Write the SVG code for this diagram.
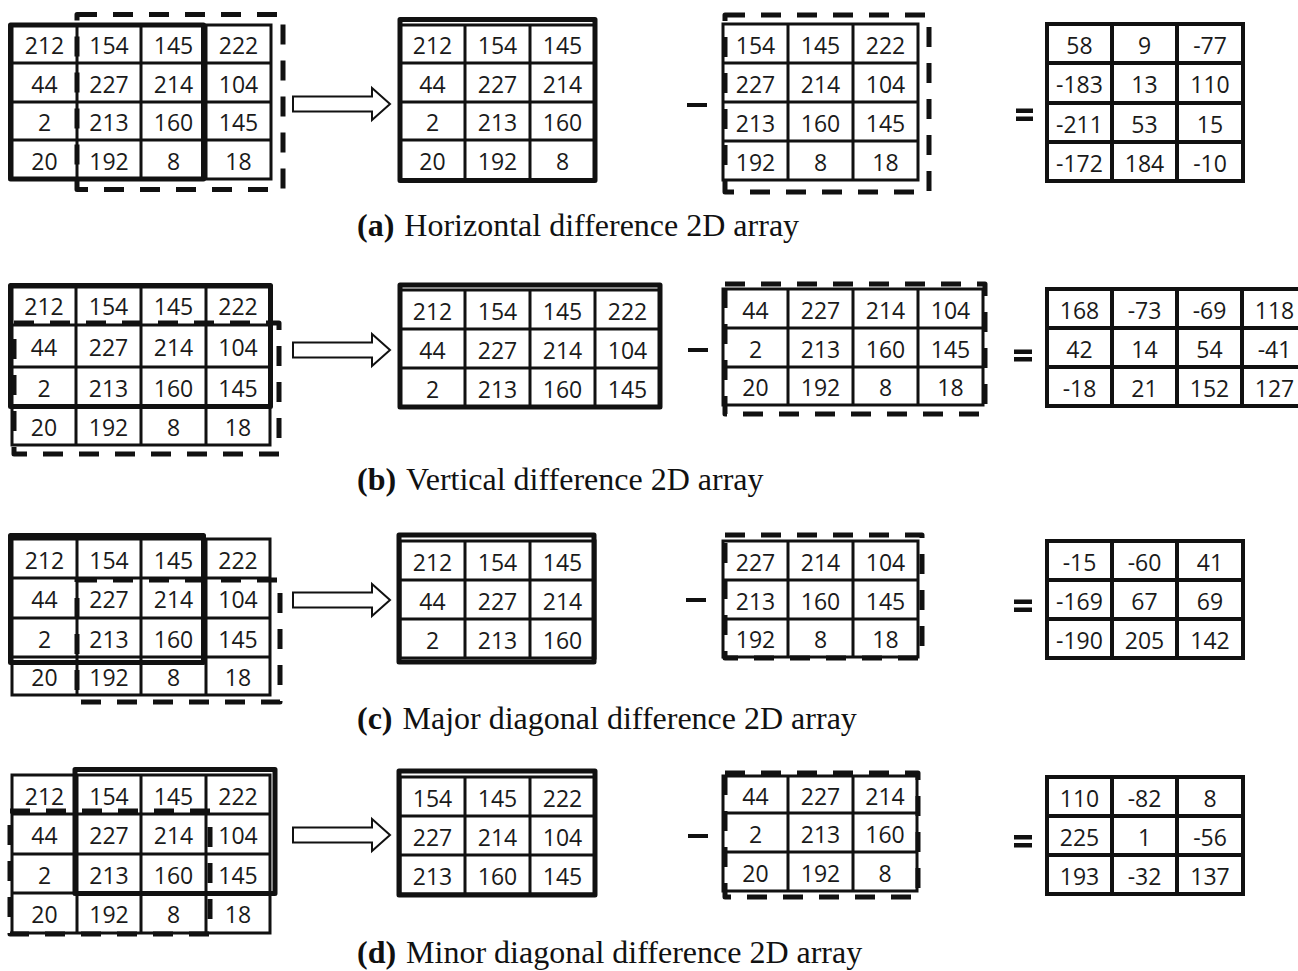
<svg xmlns="http://www.w3.org/2000/svg" width="1298" height="971" viewBox="0 0 1298 971">
<style>
  .grid{fill:#fff;stroke:#111;stroke-width:3}
  .res{fill:#fff;stroke:#111;stroke-width:4}
  .solid{fill:none;stroke:#111;stroke-width:5;stroke-linejoin:round}
  .dash{fill:none;stroke:#111;stroke-width:5;stroke-dasharray:20 16;stroke-linejoin:round}
  .n{font-family:"Open Sans","Liberation Sans",sans-serif;font-size:23px;fill:#1a1a1a;text-anchor:middle}
  .cap{font-family:"Liberation Serif","Times New Roman",serif;font-size:32px;fill:#111}
  .op{fill:#111}
  .arr{fill:#fff;stroke:#111;stroke-width:2;stroke-linejoin:miter}
</style>
<defs>
  <path id="arrow" class="arr" d="M0 -7.5H79V-16L97 0L79 16V7.5H0Z"/>
</defs>

<!-- ===== (a) horizontal ===== -->
<g id="a-source">
  <path class="grid" d="M12 25H271V179H12Z M77 25V179 M141 25V179 M206 25V179 M12 63H271 M12 102H271 M12 140H271"/>
  <text class="n" x="44.5" y="54">212</text><text class="n" x="109" y="54">154</text><text class="n" x="173.5" y="54">145</text><text class="n" x="238.5" y="54">222</text>
  <text class="n" x="44.5" y="92.5">44</text><text class="n" x="109" y="92.5">227</text><text class="n" x="173.5" y="92.5">214</text><text class="n" x="238.5" y="92.5">104</text>
  <text class="n" x="44.5" y="131">2</text><text class="n" x="109" y="131">213</text><text class="n" x="173.5" y="131">160</text><text class="n" x="238.5" y="131">145</text>
  <text class="n" x="44.5" y="169.5">20</text><text class="n" x="109" y="169.5">192</text><text class="n" x="173.5" y="169.5">8</text><text class="n" x="238.5" y="169.5">18</text>
  <rect class="solid" x="10.5" y="25" width="193" height="154"/>
  <rect class="dash" x="77" y="14.5" width="206" height="175"/>
</g>
<g id="a-minuend">
  <path class="grid" d="M400 25H595V180H400Z M465 25V180 M530 25V180 M400 63H595 M400 102H595 M400 140H595"/>
  <text class="n" x="432.5" y="54">212</text><text class="n" x="497.5" y="54">154</text><text class="n" x="562.5" y="54">145</text>
  <text class="n" x="432.5" y="92.5">44</text><text class="n" x="497.5" y="92.5">227</text><text class="n" x="562.5" y="92.5">214</text>
  <text class="n" x="432.5" y="131">2</text><text class="n" x="497.5" y="131">213</text><text class="n" x="562.5" y="131">160</text>
  <text class="n" x="432.5" y="170">20</text><text class="n" x="497.5" y="170">192</text><text class="n" x="562.5" y="170">8</text>
  <rect class="solid" x="400" y="19.5" width="195" height="161"/>
</g>
<g id="a-subtrahend">
  <path class="grid" d="M723 24H918V180H723Z M788 24V180 M853 24V180 M723 63H918 M723 102H918 M723 141H918"/>
  <text class="n" x="755.5" y="53.5">154</text><text class="n" x="820.5" y="53.5">145</text><text class="n" x="885.5" y="53.5">222</text>
  <text class="n" x="755.5" y="92.5">227</text><text class="n" x="820.5" y="92.5">214</text><text class="n" x="885.5" y="92.5">104</text>
  <text class="n" x="755.5" y="131.5">213</text><text class="n" x="820.5" y="131.5">160</text><text class="n" x="885.5" y="131.5">145</text>
  <text class="n" x="755.5" y="170.5">192</text><text class="n" x="820.5" y="170.5">8</text><text class="n" x="885.5" y="170.5">18</text>
  <rect class="dash" x="725" y="15" width="204" height="177"/>
</g>
<g id="a-result">
  <path class="res" d="M1047 24H1243V181H1047Z M1112 24V181 M1177 24V181 M1047 63H1243 M1047 103H1243 M1047 142H1243"/>
  <text class="n" x="1079.5" y="53.5">58</text><text class="n" x="1144.5" y="53.5">9</text><text class="n" x="1210" y="53.5">-77</text>
  <text class="n" x="1079.5" y="93">-183</text><text class="n" x="1144.5" y="93">13</text><text class="n" x="1210" y="93">110</text>
  <text class="n" x="1079.5" y="132.5">-211</text><text class="n" x="1144.5" y="132.5">53</text><text class="n" x="1210" y="132.5">15</text>
  <text class="n" x="1079.5" y="171.5">-172</text><text class="n" x="1144.5" y="171.5">184</text><text class="n" x="1210" y="171.5">-10</text>
</g>
<text class="cap" x="357" y="236"><tspan font-weight="bold">(a)</tspan><tspan dx="10">Horizontal difference 2D array</tspan></text>

<!-- ===== (b) vertical ===== -->
<g id="b-source">
  <path class="grid" d="M12 287H270V445H12Z M76 287V445 M141 287V445 M206 287V445 M12 325H270 M12 367H270 M12 407H270"/>
  <text class="n" x="44" y="315">212</text><text class="n" x="108.5" y="315">154</text><text class="n" x="173.5" y="315">145</text><text class="n" x="238" y="315">222</text>
  <text class="n" x="44" y="356">44</text><text class="n" x="108.5" y="356">227</text><text class="n" x="173.5" y="356">214</text><text class="n" x="238" y="356">104</text>
  <text class="n" x="44" y="397">2</text><text class="n" x="108.5" y="397">213</text><text class="n" x="173.5" y="397">160</text><text class="n" x="238" y="397">145</text>
  <text class="n" x="44" y="436">20</text><text class="n" x="108.5" y="436">192</text><text class="n" x="173.5" y="436">8</text><text class="n" x="238" y="436">18</text>
  <rect class="solid" x="10.5" y="285.5" width="260" height="121"/>
  <rect class="dash" x="14" y="323" width="265" height="131"/>
</g>
<g id="b-minuend">
  <path class="grid" d="M400 290H660V407H400Z M465 290V407 M530 290V407 M595 290V407 M400 329H660 M400 368H660"/>
  <text class="n" x="432.5" y="319.5">212</text><text class="n" x="497.5" y="319.5">154</text><text class="n" x="562.5" y="319.5">145</text><text class="n" x="627.5" y="319.5">222</text>
  <text class="n" x="432.5" y="358.5">44</text><text class="n" x="497.5" y="358.5">227</text><text class="n" x="562.5" y="358.5">214</text><text class="n" x="627.5" y="358.5">104</text>
  <text class="n" x="432.5" y="397.5">2</text><text class="n" x="497.5" y="397.5">213</text><text class="n" x="562.5" y="397.5">160</text><text class="n" x="627.5" y="397.5">145</text>
  <rect class="solid" x="400" y="285" width="260" height="122"/>
</g>
<g id="b-subtrahend">
  <path class="grid" d="M723 289H983V405H723Z M788 289V405 M853 289V405 M918 289V405 M723 328H983 M723 367H983"/>
  <text class="n" x="755.5" y="318.5">44</text><text class="n" x="820.5" y="318.5">227</text><text class="n" x="885.5" y="318.5">214</text><text class="n" x="950.5" y="318.5">104</text>
  <text class="n" x="755.5" y="357.5">2</text><text class="n" x="820.5" y="357.5">213</text><text class="n" x="885.5" y="357.5">160</text><text class="n" x="950.5" y="357.5">145</text>
  <text class="n" x="755.5" y="396">20</text><text class="n" x="820.5" y="396">192</text><text class="n" x="885.5" y="396">8</text><text class="n" x="950.5" y="396">18</text>
  <rect class="dash" x="725" y="284" width="260" height="130"/>
</g>
<g id="b-result">
  <path class="res" d="M1047 289H1307V406H1047Z M1112 289V406 M1177 289V406 M1242 289V406 M1047 328H1307 M1047 367H1307"/>
  <text class="n" x="1079.5" y="318.5">168</text><text class="n" x="1144.5" y="318.5">-73</text><text class="n" x="1209.5" y="318.5">-69</text><text class="n" x="1274.5" y="318.5">118</text>
  <text class="n" x="1079.5" y="357.5">42</text><text class="n" x="1144.5" y="357.5">14</text><text class="n" x="1209.5" y="357.5">54</text><text class="n" x="1274.5" y="357.5">-41</text>
  <text class="n" x="1079.5" y="396.5">-18</text><text class="n" x="1144.5" y="396.5">21</text><text class="n" x="1209.5" y="396.5">152</text><text class="n" x="1274.5" y="396.5">127</text>
</g>
<text class="cap" x="357" y="490"><tspan font-weight="bold">(b)</tspan><tspan dx="10">Vertical difference 2D array</tspan></text>

<!-- ===== (c) major diagonal ===== -->
<g id="c-source">
  <path class="grid" d="M12 539H270V695H12Z M77 539V695 M141 539V695 M206 539V695 M12 578H270 M12 618H270 M12 657H270"/>
  <text class="n" x="44.5" y="568.5">212</text><text class="n" x="109" y="568.5">154</text><text class="n" x="173.5" y="568.5">145</text><text class="n" x="238" y="568.5">222</text>
  <text class="n" x="44.5" y="608">44</text><text class="n" x="109" y="608">227</text><text class="n" x="173.5" y="608">214</text><text class="n" x="238" y="608">104</text>
  <text class="n" x="44.5" y="647.5">2</text><text class="n" x="109" y="647.5">213</text><text class="n" x="173.5" y="647.5">160</text><text class="n" x="238" y="647.5">145</text>
  <text class="n" x="44.5" y="686">20</text><text class="n" x="109" y="686">192</text><text class="n" x="173.5" y="686">8</text><text class="n" x="238" y="686">18</text>
  <rect class="solid" x="10.5" y="535.5" width="193" height="127"/>
  <rect class="dash" x="77" y="580" width="203" height="122"/>
</g>
<g id="c-minuend">
  <path class="grid" d="M400 541H595V658H400Z M465 541V658 M530 541V658 M400 580H595 M400 619H595"/>
  <text class="n" x="432.5" y="570.5">212</text><text class="n" x="497.5" y="570.5">154</text><text class="n" x="562.5" y="570.5">145</text>
  <text class="n" x="432.5" y="609.5">44</text><text class="n" x="497.5" y="609.5">227</text><text class="n" x="562.5" y="609.5">214</text>
  <text class="n" x="432.5" y="648.5">2</text><text class="n" x="497.5" y="648.5">213</text><text class="n" x="562.5" y="648.5">160</text>
  <rect class="solid" x="399" y="535" width="195" height="127"/>
</g>
<g id="c-subtrahend">
  <path class="grid" d="M723 541H918V657H723Z M788 541V657 M853 541V657 M723 580H918 M723 619H918"/>
  <text class="n" x="755.5" y="570.5">227</text><text class="n" x="820.5" y="570.5">214</text><text class="n" x="885.5" y="570.5">104</text>
  <text class="n" x="755.5" y="609.5">213</text><text class="n" x="820.5" y="609.5">160</text><text class="n" x="885.5" y="609.5">145</text>
  <text class="n" x="755.5" y="648">192</text><text class="n" x="820.5" y="648">8</text><text class="n" x="885.5" y="648">18</text>
  <rect class="dash" x="725" y="535" width="197" height="123"/>
</g>
<g id="c-result">
  <path class="res" d="M1047 541H1243V658H1047Z M1112 541V658 M1177 541V658 M1047 580H1243 M1047 619H1243"/>
  <text class="n" x="1079.5" y="570.5">-15</text><text class="n" x="1144.5" y="570.5">-60</text><text class="n" x="1210" y="570.5">41</text>
  <text class="n" x="1079.5" y="609.5">-169</text><text class="n" x="1144.5" y="609.5">67</text><text class="n" x="1210" y="609.5">69</text>
  <text class="n" x="1079.5" y="648.5">-190</text><text class="n" x="1144.5" y="648.5">205</text><text class="n" x="1210" y="648.5">142</text>
</g>
<text class="cap" x="357" y="729"><tspan font-weight="bold">(c)</tspan><tspan dx="10">Major diagonal difference 2D array</tspan></text>

<!-- ===== (d) minor diagonal ===== -->
<g id="d-source">
  <path class="grid" d="M12 775H270V933H12Z M77 775V933 M141 775V933 M206 775V933 M12 814H270 M12 854H270 M12 893H270"/>
  <text class="n" x="44.5" y="804.5">212</text><text class="n" x="109" y="804.5">154</text><text class="n" x="173.5" y="804.5">145</text><text class="n" x="238" y="804.5">222</text>
  <text class="n" x="44.5" y="844">44</text><text class="n" x="109" y="844">227</text><text class="n" x="173.5" y="844">214</text><text class="n" x="238" y="844">104</text>
  <text class="n" x="44.5" y="883.5">2</text><text class="n" x="109" y="883.5">213</text><text class="n" x="173.5" y="883.5">160</text><text class="n" x="238" y="883.5">145</text>
  <text class="n" x="44.5" y="923">20</text><text class="n" x="109" y="923">192</text><text class="n" x="173.5" y="923">8</text><text class="n" x="238" y="923">18</text>
  <rect class="solid" x="75" y="769.5" width="200" height="124"/>
  <rect class="dash" x="10" y="811" width="200" height="123"/>
</g>
<g id="d-minuend">
  <path class="grid" d="M400 777H595V894H400Z M465 777V894 M530 777V894 M400 816H595 M400 855H595"/>
  <text class="n" x="432.5" y="806.5">154</text><text class="n" x="497.5" y="806.5">145</text><text class="n" x="562.5" y="806.5">222</text>
  <text class="n" x="432.5" y="845.5">227</text><text class="n" x="497.5" y="845.5">214</text><text class="n" x="562.5" y="845.5">104</text>
  <text class="n" x="432.5" y="884.5">213</text><text class="n" x="497.5" y="884.5">160</text><text class="n" x="562.5" y="884.5">145</text>
  <rect class="solid" x="399" y="771" width="196" height="124"/>
</g>
<g id="d-subtrahend">
  <path class="grid" d="M723 776H917V891H723Z M788 776V891 M853 776V891 M723 813H917 M723 852H917"/>
  <text class="n" x="755.5" y="804.5">44</text><text class="n" x="820.5" y="804.5">227</text><text class="n" x="885" y="804.5">214</text>
  <text class="n" x="755.5" y="842.5">2</text><text class="n" x="820.5" y="842.5">213</text><text class="n" x="885" y="842.5">160</text>
  <text class="n" x="755.5" y="881.5">20</text><text class="n" x="820.5" y="881.5">192</text><text class="n" x="885" y="881.5">8</text>
  <rect class="dash" x="725" y="773" width="193" height="124"/>
</g>
<g id="d-result">
  <path class="res" d="M1047 777H1243V894H1047Z M1112 777V894 M1177 777V894 M1047 816H1243 M1047 855H1243"/>
  <text class="n" x="1079.5" y="806.5">110</text><text class="n" x="1144.5" y="806.5">-82</text><text class="n" x="1210" y="806.5">8</text>
  <text class="n" x="1079.5" y="845.5">225</text><text class="n" x="1144.5" y="845.5">1</text><text class="n" x="1210" y="845.5">-56</text>
  <text class="n" x="1079.5" y="884.5">193</text><text class="n" x="1144.5" y="884.5">-32</text><text class="n" x="1210" y="884.5">137</text>
</g>
<text class="cap" x="357" y="963"><tspan font-weight="bold">(d)</tspan><tspan dx="10">Minor diagonal difference 2D array</tspan></text>

<!-- operators: minus and equals -->
<g id="operators" class="op">
  <rect x="687" y="103" width="20" height="4"/>
  <rect x="1016" y="108.5" width="17" height="4.5"/><rect x="1016" y="116.5" width="17" height="4.5"/>
  <rect x="688" y="348" width="20" height="4"/>
  <rect x="1014" y="349.5" width="18" height="4.5"/><rect x="1014" y="357" width="18" height="4.5"/>
  <rect x="686" y="598" width="20" height="4"/>
  <rect x="1014" y="599.5" width="18" height="4.5"/><rect x="1014" y="607.5" width="18" height="4.5"/>
  <rect x="688" y="834" width="20" height="4"/>
  <rect x="1014" y="835" width="18" height="4.5"/><rect x="1014" y="843" width="18" height="4.5"/>
</g>

<!-- connectors: block arrows from each source to its split arrays -->
<g id="connectors">
  <use href="#arrow" x="293" y="104"/>
  <use href="#arrow" x="293" y="350"/>
  <use href="#arrow" x="293" y="600"/>
  <use href="#arrow" x="293" y="835"/>
</g>
</svg>
